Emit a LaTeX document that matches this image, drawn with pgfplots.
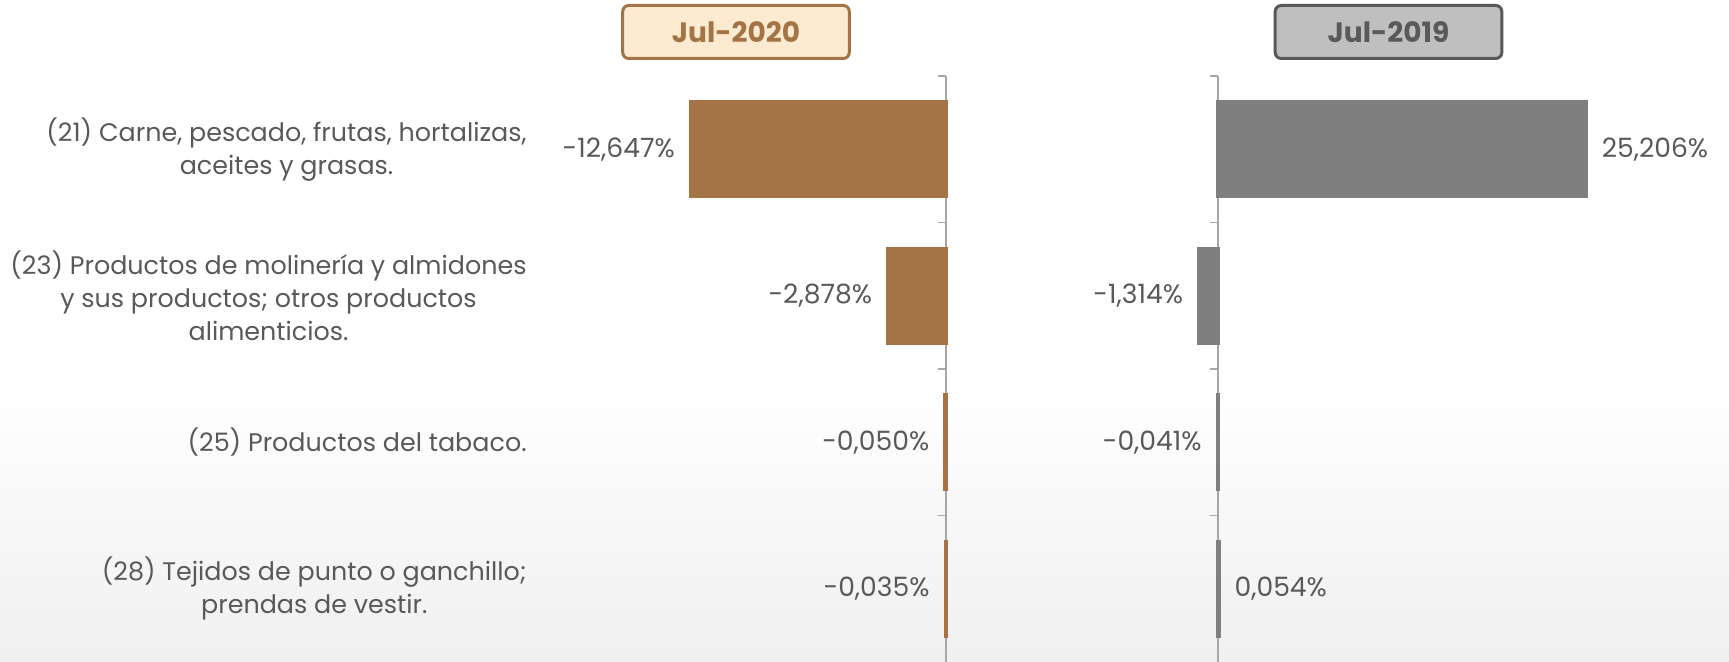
\documentclass[border=0pt]{standalone}
\usepackage{fontspec}
\setmainfont{Poppins}
\usepackage{pgfplots}
\pgfplotsset{compat=1.18}
\definecolor{cBrown}{HTML}{A47447}
\definecolor{cGray}{HTML}{7F7F7F}
\definecolor{cText}{HTML}{595959}
\definecolor{cAxis}{HTML}{A6A6A6}
\definecolor{cCream}{HTML}{FCEBD0}
\definecolor{cHead}{HTML}{BFBFBF}

\pgfplotstableread{
cat val
0 -12.647
1 -2.878
2 -0.050
3 -0.035
}\tabJulA

\pgfplotstableread{
cat val
0 25.206
3 0.054
}\tabJulBpos

\pgfplotstableread{
cat val
1 -1.314
2 -0.041
}\tabJulBneg

\pgfplotsset{
  panel/.style={
    scale only axis, height=293pt,
    xbar, bar width=47pt, bar shift=0pt,
    ymin=-0.5, ymax=3.5, y dir=reverse,
    axis x line=none,
    ytick={-0.5,0.5,1.5,2.5}, yticklabels={},
    major tick length=4pt,
    every tick/.style={cAxis, line width=0.7pt},
    y axis line style={cAxis, line width=0.7pt},
    clip=false,
    /pgf/number format/.cd, fixed, fixed zerofill, precision=3, use comma, assume math mode=true,
  },
  vlabels/.style={
    nodes near coords={\pgfmathprintnumber{\pgfplotspointmeta}\%},
    every node near coord/.append style={font=\fontsize{13.3}{16}\selectfont, text=cText, inner sep=0pt},
  },
}

\begin{document}
\begin{tikzpicture}
\path[use as bounding box] (0,0) rectangle (864.5pt,331pt);
\shade[top color=white, bottom color=black!6] (0,0) rectangle (864.5pt,140pt);

% category labels
\begin{axis}[
  scale only axis, width=1pt, height=293pt,
  at={(263.5pt,0pt)}, anchor=south west,
  xmin=0, xmax=1, ymin=-0.5, ymax=3.5, y dir=reverse,
  axis x line=none, axis y line*=left,
  y axis line style={draw=none}, major tick length=0pt,
  ytick={0,1,2,3},
  yticklabels={{(21) Carne, pescado, frutas, hortalizas,\\aceites y grasas.},
               {(23) Productos de molinería y almidones\\y sus productos; otros productos\\alimenticios.},
               {(25) Productos del tabaco.},
               {(28) Tejidos de punto o ganchillo;\\prendas de vestir.}},
  yticklabel style={align=center, inner sep=0pt, text=cText,
                    font=\fontsize{12.7}{16.5}\selectfont},
]
\end{axis}

% Jul-2020
\begin{axis}[panel, vlabels,
  width=131.3pt, xmin=-13, xmax=0,
  at={(473pt,0pt)}, anchor=south east,
  axis y line*=right, tick align=inside,
  every node near coord/.append style={anchor=east, xshift=-7pt},
]
\addplot[fill=cBrown, draw=cBrown, line width=1.8pt] table[x=val, y=cat] {\tabJulA};
\end{axis}

% Jul-2019
\begin{axis}[panel,
  width=189.8pt, xmin=0, xmax=26,
  at={(609pt,0pt)}, anchor=south west,
  axis y line*=left, tick align=outside,
]
\addplot[fill=cGray, draw=cGray, line width=1.8pt, vlabels,
  every node near coord/.append style={anchor=west, xshift=7pt}]
  table[x=val, y=cat] {\tabJulBpos};
\addplot[fill=cGray, draw=cGray, line width=1.8pt, vlabels,
  every node near coord/.append style={anchor=east, xshift=-7pt}]
  table[x=val, y=cat] {\tabJulBneg};
\end{axis}

\node[draw=cBrown, fill=cCream, line width=1.5pt, rounded corners=3pt,
      minimum width=113.3pt, minimum height=26.5pt, text=cBrown,
      font=\fontsize{14}{17}\selectfont\bfseries] at (368pt,315pt) {Jul-2020};
\node[draw=cText, fill=cHead, line width=1.5pt, rounded corners=3pt,
      minimum width=113.3pt, minimum height=26.5pt, text=cText,
      font=\fontsize{14}{17}\selectfont\bfseries] at (694.25pt,315pt) {Jul-2019};
\end{tikzpicture}
\end{document}
